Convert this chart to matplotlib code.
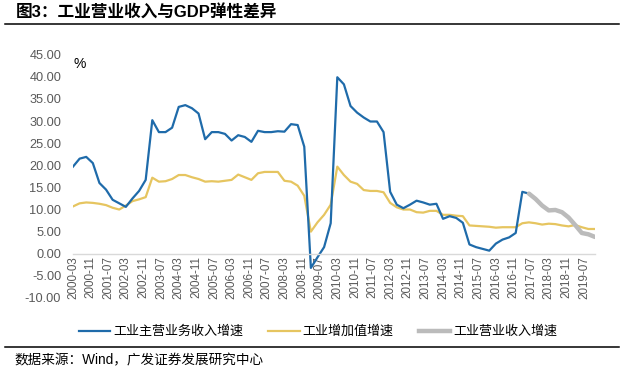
import numpy as np
import matplotlib
matplotlib.use('Agg')
import matplotlib.pyplot as plt
from matplotlib.lines import Line2D

plt.rcParams['font.family'] = ['Liberation Sans', 'Noto Sans CJK SC', 'DejaVu Sans']

# quarterly observations, 2000-03 .. 2019-12
years = list(range(2000, 2020))
quarters = [f'{y}-{m:02d}' for y in years for m in (3, 6, 9, 12)]

# 工业主营业务收入增速 (2000-03 .. 2017-06)
revenue_main = [
    19.7, 21.5, 21.9, 20.5,
    16.0, 14.5, 12.2, 11.4,
    10.6, 12.5, 14.2, 16.7,
    30.2, 27.5, 27.5, 28.5,
    33.2, 33.6, 32.9, 31.7,
    25.9, 27.5, 27.5, 27.1,
    25.6, 26.8, 26.4, 25.3,
    27.8, 27.5, 27.5, 27.7,
    27.6, 29.3, 29.1, 24.2,
    -3.2, -0.8, 1.5, 6.9,
    39.9, 38.3, 33.4, 31.9,
    30.8, 29.9, 29.9, 27.5,
    14.0, 11.1, 10.3, 11.1,
    12.0, 11.6, 11.1, 11.3,
    7.9, 8.5, 8.1, 7.0,
    2.1, 1.5, 1.1, 0.7,
    2.3, 3.2, 3.7, 4.7,
    14.0, 13.6,
]

# 工业增加值增速 (2000-03 .. 2019-12)
value_added = [
    10.7, 11.4, 11.6, 11.5,
    11.3, 11.0, 10.4, 10.0,
    10.9, 11.9, 12.3, 12.8,
    17.2, 16.3, 16.4, 16.9,
    17.8, 17.8, 17.3, 16.9,
    16.3, 16.4, 16.3, 16.5,
    16.7, 17.9, 17.3, 16.7,
    18.2, 18.5, 18.5, 18.5,
    16.5, 16.3, 15.4, 13.1,
    5.0, 7.1, 8.8, 11.1,
    19.7, 17.8, 16.3, 15.8,
    14.4, 14.2, 14.2, 13.9,
    11.5, 10.5, 10.0, 10.0,
    9.4, 9.3, 9.7, 9.7,
    8.8, 8.8, 8.6, 8.5,
    6.4, 6.3, 6.2, 6.1,
    5.9, 6.0, 6.0, 6.0,
    6.9, 7.1, 6.9, 6.6,
    6.8, 6.7, 6.4, 6.2,
    6.5, 6.0, 5.6, 5.6,
]

# 工业营业收入增速 (2017-06 .. 2019-12)
revenue_new = [13.6, 12.4, 10.9, 9.8, 9.9, 9.4, 8.2, 6.5, 4.7, 4.4, 3.8]

# tick labels every 8 months
tick_labels = ['2000-03', '2000-11', '2001-07', '2002-03', '2002-11', '2003-07',
               '2004-03', '2004-11', '2005-07', '2006-03', '2006-11', '2007-07',
               '2008-03', '2008-11', '2009-07', '2010-03', '2010-11', '2011-07',
               '2012-03', '2012-11', '2013-07', '2014-03', '2014-11', '2015-07',
               '2016-03', '2016-11', '2017-07', '2018-03', '2018-11', '2019-07']


def month_index(s):
    y, m = s.split('-')
    return (int(y) - 2000) * 12 + int(m) - 3


x_all = np.array([month_index(q) for q in quarters])
x_main = x_all[:len(revenue_main)]
x_new = x_all[len(x_all) - len(revenue_new):]
ticks = [month_index(t) for t in tick_labels]

W, H = 623, 375
fig = plt.figure(figsize=(W / 100, H / 100), dpi=100)
ax = fig.add_axes([73 / W, 1 - 298 / H, (595 - 73) / W, (298 - 54.7) / H])

blue = '#1F6BAA'
yellow = '#E6C560'
grey = '#BBBBBB'

ax.plot(x_all, value_added, color=yellow, lw=1.6, solid_joinstyle='round')
ax.plot(x_main, revenue_main, color=blue, lw=1.6, solid_joinstyle='round')
ax.plot(x_new, revenue_new, color=grey, lw=3.2, solid_capstyle='round', solid_joinstyle='round')

for s in ['top', 'right', 'left']:
    ax.spines[s].set_visible(False)
ax.spines['bottom'].set_position(('data', 0))
ax.spines['bottom'].set_color('#D9D9D9')
ax.spines['bottom'].set_linewidth(1.0)

ax.set_xlim(0, 237)
ax.set_ylim(-10, 45)
ax.set_yticks(np.arange(-10, 46, 5))
ax.set_yticklabels([f'{v:.2f}' for v in np.arange(-10, 46, 5)])
ax.set_xticks(ticks)
ax.set_xticklabels(tick_labels)
ax.tick_params(axis='y', length=0, pad=8.5, labelsize=9.2, labelcolor='#595959')
ax.tick_params(axis='x', length=0, pad=1.5, labelsize=8.4, labelcolor='#595959',
               labelrotation=90)

ax.text(73 / W, 1 - 64 / H, '%', transform=fig.transFigure, fontsize=10,
        ha='left', va='center', color='black')

# title and frame lines
fig.text(16 / W, 1 - 13 / H, '图3：工业营业收入与GDP弹性差异', fontsize=12,
         fontweight='bold', ha='left', va='center')
fig.add_artist(Line2D([5 / W, 619 / W], [1 - 23.5 / H] * 2, color='black', lw=1.1))
fig.add_artist(Line2D([5 / W, 619 / W], [1 - 347 / H] * 2, color='black', lw=1.1))
fig.text(14 / W, 1 - 360 / H, '数据来源：Wind，广发证券发展研究中心', fontsize=9.8,
         ha='left', va='center')

handles = [Line2D([], [], color=blue, lw=1.6),
           Line2D([], [], color=yellow, lw=1.6),
           Line2D([], [], color=grey, lw=3.2)]
fig.legend(handles, ['工业主营业务收入增速', '工业增加值增速', '工业营业收入增速'],
           loc='center', bbox_to_anchor=(318 / W, 1 - 332 / H), ncol=3, frameon=False,
           fontsize=9.4, handlelength=2.4, handletextpad=0.25, columnspacing=1.9)

fig.savefig('out.png', dpi=100)
